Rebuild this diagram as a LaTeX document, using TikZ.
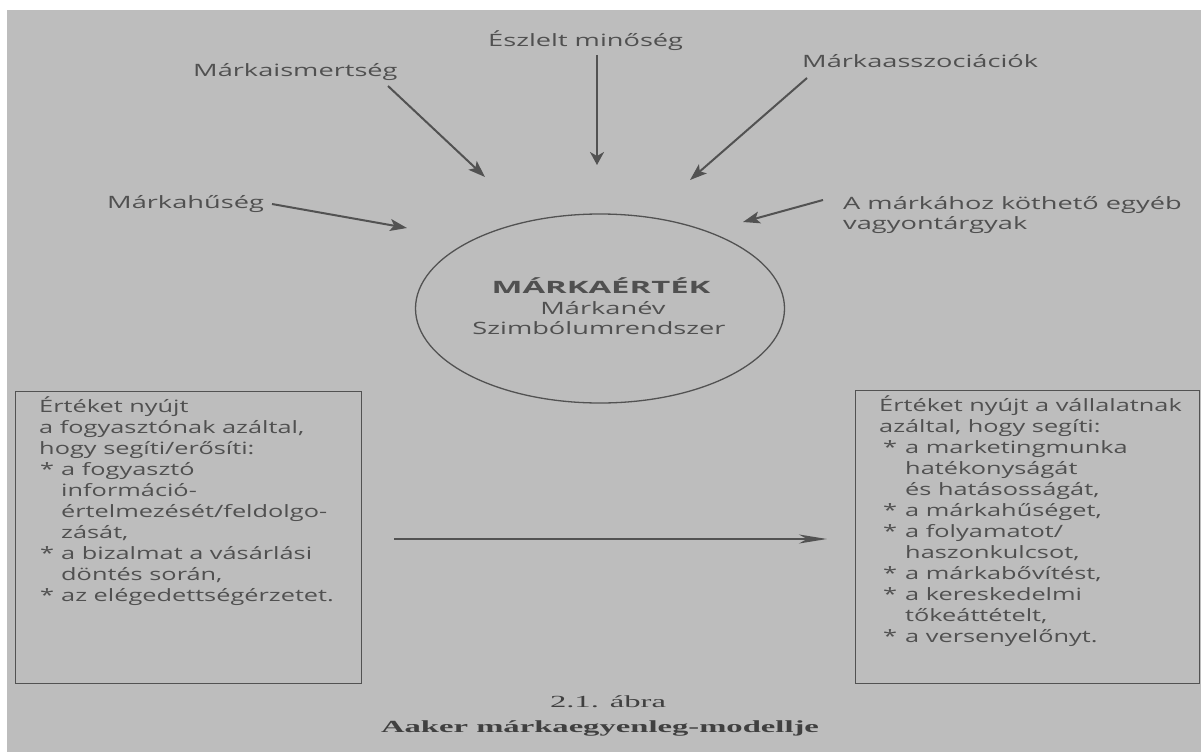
\documentclass[tikz,border=0pt]{standalone}
\usepackage{fontspec}
\setmainfont{Open Sans}
\newfontfamily\lblfont[FakeStretch=1.6]{Open Sans}
\newfontfamily\boxfont[FakeStretch=1.49]{Open Sans}
\newfontfamily\headfont[FakeStretch=1.93]{Open Sans}
\newfontfamily\capfont[FakeStretch=1.92]{Liberation Serif}
\usetikzlibrary{arrows.meta,shapes.geometric}
\definecolor{bg}{RGB}{189,189,189}
\definecolor{ink}{RGB}{80,80,80}
\definecolor{lineink}{RGB}{82,82,82}
\tikzset{
  lbl/.style={anchor=base west, inner sep=0pt, text=ink, font=\lblfont\fontsize{17}{21}\selectfont},
  boxt/.style={anchor=base west, inner sep=0pt, text=ink, font=\boxfont\fontsize{17}{21}\selectfont},
  ctr/.style={anchor=base, inner sep=0pt, text=ink, font=\lblfont\fontsize{17}{21}\selectfont},
  captxt/.style={anchor=base, inner sep=0pt, text=ink!80!black, font=\capfont\fontsize{17}{21}\selectfont},
  arr/.style={draw=lineink, line width=2pt, -{Stealth[length=17pt,width=12pt,inset=4pt]}},
  varr/.style={draw=lineink, line width=2pt, -{Stealth[length=13pt,width=14pt,inset=4pt]}},
  harr/.style={draw=lineink, line width=1.8pt, -{Stealth[length=28pt,width=9pt,inset=8pt]}},
  boxx/.style={draw=lineink, line width=1.4pt, anchor=north west, inner sep=0pt},
}
\begin{document}
\begin{tikzpicture}[x=1pt,y=-1pt]
\useasboundingbox (0,0) rectangle (1201,752);
\fill[white] (0,0) rectangle (1201,752);
\fill[bg] (7,10) rectangle (1201,752);

% top labels
\node[lbl] (esz) at (488,47) {Észlelt minőség};
\node[lbl] (ism) at (193,76) {Márkaismertség};
\node[lbl] (assz) at (802,67) {Márkaasszociációk};
\node[lbl] (hus) at (107,208) {Márkahűség};
\node[lbl] (egy1) at (843,209) {A márkához köthető egyéb};
\node[lbl] (egy2) at (843,229) {vagyontárgyak};

% central circle
\node[draw=lineink, line width=1.3pt, ellipse, minimum width=369pt, minimum height=189pt, inner sep=0pt] (me) at (600,308.5) {};
\node[ctr, font=\headfont\bfseries\fontsize{17}{21}\selectfont] (me1) at (601,293) {MÁRKAÉRTÉK};
\node[ctr] (me2) at (603,314) {Márkanév};
\node[ctr] (me3) at (599,334) {Szimbólumrendszer};

% arrow coordinates
\coordinate (ismS) at (388,86);  \coordinate (ismE) at (485,177);
\coordinate (eszS) at (597,55);  \coordinate (eszE) at (597,165);
\coordinate (asszS) at (807,78); \coordinate (asszE) at (690,180);
\coordinate (husS) at (272,204); \coordinate (husE) at (407,228);
\coordinate (egyS) at (823,200); \coordinate (egyE) at (743,222);
\draw[arr] (ismS) -- (ismE);
\draw[varr] (eszS) -- (eszE);
\draw[arr] (asszS) -- (asszE);
\draw[arr] (husS) -- (husE);
\draw[arr] (egyS) -- (egyE);

% boxes
\node[boxx, minimum width=346pt, minimum height=292pt] (lbox) at (15,391) {};
\node[boxx, minimum width=344pt, minimum height=293pt] (rbox) at (855,390) {};

% left box text
\node[boxt] (l0) at (39,412) {Értéket nyújt};
\node[boxt] (l1) at (39,433) {a fogyasztónak azáltal,};
\node[boxt] (l2) at (39,454) {hogy segíti/erősíti:};
\node[boxt] (l3a) at (40,475) {*};
\node[boxt] (l3) at (61,475) {a fogyasztó};
\node[boxt] (l4) at (61,496) {információ-};
\node[boxt] (l5) at (61,517) {értelmezését/feldolgo-};
\node[boxt] (l6) at (61,538) {zását,};
\node[boxt] (l7a) at (40,559) {*};
\node[boxt] (l7) at (61,559) {a bizalmat a vásárlási};
\node[boxt] (l8) at (61,580) {döntés során,};
\node[boxt] (l9a) at (40,601) {*};
\node[boxt] (l9) at (61,601) {az elégedettségérzetet.};

% right box text
\node[boxt] (r0) at (879,411) {Értéket nyújt a vállalatnak};
\node[boxt] (r1) at (879,432) {azáltal, hogy segíti:};
\node[boxt] (r2a) at (883,453) {*};
\node[boxt] (r2) at (905,453) {a marketingmunka};
\node[boxt] (r3) at (905,474) {hatékonyságát};
\node[boxt] (r4) at (905,495) {és hatásosságát,};
\node[boxt] (r5a) at (883,516) {*};
\node[boxt] (r5) at (905,516) {a márkahűséget,};
\node[boxt] (r6a) at (883,537) {*};
\node[boxt] (r6) at (905,537) {a folyamatot/};
\node[boxt] (r7) at (905,558) {haszonkulcsot,};
\node[boxt] (r8a) at (883,579) {*};
\node[boxt] (r8) at (905,579) {a márkabővítést,};
\node[boxt] (r9a) at (883,600) {*};
\node[boxt] (r9) at (905,600) {a kereskedelmi};
\node[boxt] (r10) at (905,621) {tőkeáttételt,};
\node[boxt] (r11a) at (883,642) {*};
\node[boxt] (r11) at (905,642) {a versenyelőnyt.};

% horizontal arrow between boxes
\coordinate (hS) at (394,539);
\coordinate (hE) at (827,539);
\draw[harr] (hS) -- (hE);

% caption
\node[captxt] (c1) at (608,707) {2.1. ábra};
\node[captxt, font=\capfont\bfseries\fontsize{17}{21}\selectfont] (c2) at (600,732) {Aaker márkaegyenleg-modellje};
\end{tikzpicture}
\end{document}
